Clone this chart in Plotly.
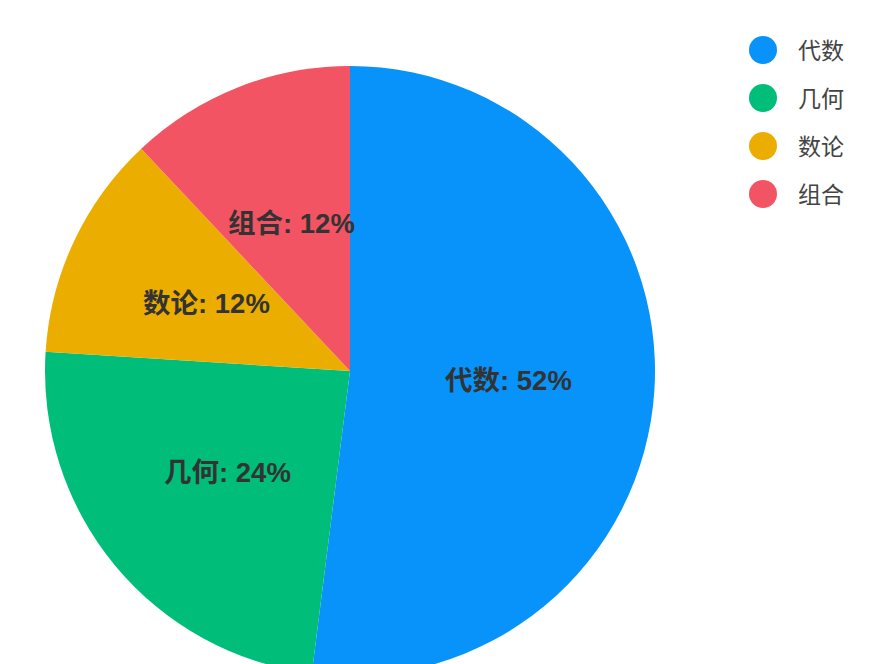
import numpy as np
import plotly.graph_objects as go

labels = ["代数", "几何", "数论", "组合"]
values = [52, 24, 12, 12]
colors = ["#0793f9", "#00bd7a", "#ebae00", "#f25464"]

# page has an 8px body margin, so figure pixels = screen pixels - 8
W, H = 878, 700
L, T, P = 37, 58, 610          # left / top margin, pie diameter (plot height)
B = H - T - P
PW = W - L
OFF = 8


def px(x):
    return (x - OFF - L) / PW


def py(y):
    return (H - B - (y - OFF)) / P


fig = go.Figure()

fig.add_trace(go.Pie(
    labels=labels,
    values=values,
    sort=False,
    direction="clockwise",
    rotation=0,
    marker=dict(colors=colors, line=dict(width=0)),
    textinfo="none",
    showlegend=False,
    hoverinfo="label+percent",
    domain=dict(x=[0, P / PW], y=[0, 1]),
))

# slice labels about half way out on each slice's bisector
vals = np.array(values, dtype=float)
frac = vals / vals.sum()
mid = (np.cumsum(frac) - frac / 2) * 2 * np.pi
cx, cy = 0.5 * P / PW, 0.5
rl = 0.26
for lab, f, a in zip(labels, frac, mid):
    fig.add_annotation(
        text=f"{lab}: {f * 100:.0f}%", xref="paper", yref="paper",
        x=cx + rl * P / PW * np.sin(a), y=cy + rl * np.cos(a),
        xanchor="center", yanchor="middle", showarrow=False,
        font=dict(family="Liberation Sans, Noto Sans CJK SC", size=27.5,
                  color="#333333", weight="bold"),
    )

# legend drawn by hand with round markers
for i, (lab, col) in enumerate(zip(labels, colors)):
    ly = 50 + i * 48
    fig.add_shape(type="circle", xref="paper", yref="paper",
                  x0=px(749), x1=px(777), y0=py(ly + 14), y1=py(ly - 14),
                  fillcolor=col, line=dict(width=0))
    fig.add_annotation(text=lab, xref="paper", yref="paper",
                       x=px(796), y=py(ly - 1),
                       xanchor="left", yanchor="middle", showarrow=False,
                       font=dict(family="Noto Sans CJK SC", size=23, color="#444444"))

fig.update_layout(
    width=W, height=H,
    margin=dict(l=L, r=0, t=T, b=B),
    paper_bgcolor="white",
    plot_bgcolor="white",
)

fig.write_html("out.html")
